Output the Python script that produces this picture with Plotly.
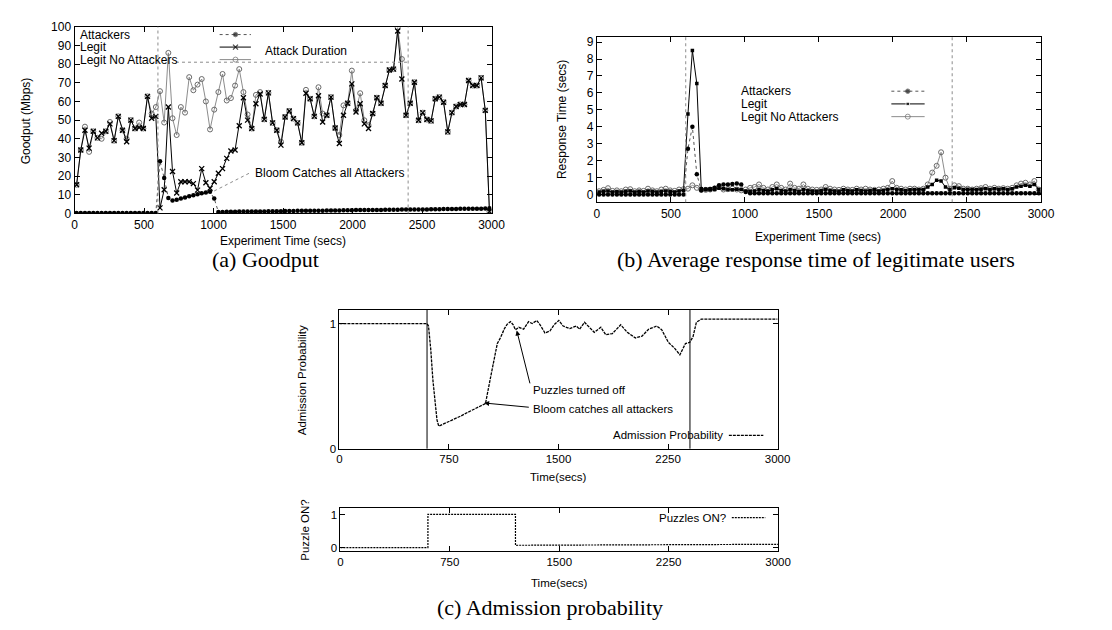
import plotly.graph_objects as go

W, H = 1112, 630

# ---------------- data ----------------
TIMES = list(range(15, 3000, 30))          # sample times (secs), one point per 30 s
ATTACK_WINDOW = [600, 2400]

GOOD_ATTACKERS = [
    0.3, 0.3, 0.3, 0.3, 0.3, 0.3, 0.3, 0.3, 0.3, 0.3,
    0.3, 0.3, 0.3, 0.3, 0.3, 0.3, 0.3, 0.3, 0.3, 0.3,
    28, 19, 8.3, 7, 7.3, 8, 8.6, 9.2, 9.8, 10.3,
    10.8, 11.2, 11.6, 8.0, 0.8, 0.8, 0.9, 0.9, 0.9, 1.0,
    1.0, 1.0, 1.0, 1.1, 1.1, 1.1, 1.2, 1.2, 1.2, 1.2,
    1.3, 1.3, 1.3, 1.4, 1.4, 1.4, 1.4, 1.5, 1.5, 1.5,
    1.6, 1.6, 1.6, 1.6, 1.7, 1.7, 1.7, 1.8, 1.8, 1.8,
    1.8, 1.9, 1.9, 1.9, 2.0, 2.0, 2.0, 2.0, 2.1, 2.1,
    2.1, 2.2, 2.2, 2.2, 2.2, 2.3, 2.3, 2.3, 2.4, 2.4,
    2.4, 2.4, 2.5, 2.5, 2.5, 2.6, 2.6, 2.6, 2.7, 2.8,
]
GOOD_LEGIT = [
    15.4, 34, 44.6, 35, 44, 40.5, 43, 44, 48, 39,
    52, 44.6, 38.4, 50, 45.5, 46, 45.5, 62.7, 51, 52,
    3, 12.7, 57, 22.5, 11, 17, 17, 17, 16, 12.5,
    24, 16.5, 13.5, 17, 21.5, 24, 29.5, 33.5, 34, 47,
    62, 50, 45.5, 58.8, 64, 50.4, 64.6, 48.5, 44.6, 36.6,
    51.7, 54.9, 50.8, 48.5, 37.9, 64.4, 61.4, 52, 63, 49,
    52.6, 62.3, 45.8, 37.5, 52.6, 59, 69.4, 54.3, 58.8, 48,
    45.5, 53.5, 62, 59, 68.5, 76.8, 77.3, 97.7, 72, 52.6,
    59, 70.3, 49.9, 54, 50.3, 49.6, 61.4, 62.3, 59.6, 43.7,
    54, 57.3, 58.4, 58.4, 71.2, 68.5, 68.5, 72.6, 55.2, 1.0,
]
GOOD_LEGIT_NOATT = [
    15.4, 34, 46.5, 33, 44, 40.5, 40, 44, 49, 39,
    52, 44.6, 40, 50, 45.5, 48.7, 45.5, 62.7, 53.5, 57,
    65.5, 48.7, 86, 51, 42, 57, 54, 73, 66, 69,
    72, 60, 45, 55.6, 65, 74.7, 60.5, 61.8, 68.5, 77.3,
    65, 53, 45.5, 63.5, 65, 50.4, 64.6, 48.5, 44.6, 38.4,
    51.7, 54.9, 50.8, 48.5, 37.9, 66.2, 61.4, 52, 67.6, 53.5,
    52.6, 62.3, 45.8, 42, 57.9, 59, 76.5, 55.2, 64.4, 49.9,
    47.3, 53.5, 62, 59, 68.5, 76.8, 77.3, 99.5, 82.7, 52.6,
    59, 70.3, 49.9, 54, 50.3, 49.6, 61.4, 62.3, 59.6, 43.7,
    54, 57.3, 58.4, 58.4, 71.2, 68.5, 68.5, 72.6, 55.2, 1.0,
]

RESP_ATTACKERS = [
    0, 0, 0, 0, 0, 0, 0, 0, 0, 0,
    0, 0, 0, 0, 0, 0, 0, 0, 0, 0,
    2.7, 4.0, 1.2, 0.25, 0.3, 0.3, 0.4, 0.55, 0.6, 0.6,
    0.62, 0.65, 0.6, 0.15, 0.08, 0.08, 0.08, 0.08, 0.08, 0.08,
    0.08, 0.08, 0.08, 0.08, 0.08, 0.08, 0.08, 0.08, 0.08, 0.08,
    0.08, 0.08, 0.08, 0.08, 0.08, 0.08, 0.08, 0.08, 0.08, 0.08,
    0.08, 0.08, 0.08, 0.08, 0.08, 0.08, 0.08, 0.08, 0.08, 0.08,
    0.08, 0.08, 0.08, 0.08, 0.08, 0.08, 0.08, 0.08, 0.08, 0.08,
    0.08, 0.08, 0.08, 0.08, 0.08, 0.08, 0.08, 0.08, 0.08, 0.08,
    0.08, 0.08, 0.08, 0.08, 0.08, 0.08, 0.08, 0.08, 0.08, 0.08,
]
RESP_LEGIT = [
    0.15, 0.2, 0.22, 0.15, 0.18, 0.15, 0.2, 0.22, 0.15, 0.2,
    0.15, 0.22, 0.2, 0.15, 0.18, 0.22, 0.2, 0.15, 0.22, 0.25,
    4.75, 8.5, 6.55, 0.35, 0.32, 0.35, 0.3, 0.38, 0.35, 0.3,
    0.28, 0.32, 0.3, 0.22, 0.2, 0.22, 0.3, 0.25, 0.22, 0.28,
    0.35, 0.25, 0.22, 0.3, 0.25, 0.2, 0.3, 0.25, 0.22, 0.2,
    0.25, 0.3, 0.25, 0.22, 0.2, 0.28, 0.25, 0.22, 0.28, 0.25,
    0.22, 0.25, 0.28, 0.22, 0.25, 0.3, 0.35, 0.3, 0.28, 0.25,
    0.28, 0.3, 0.28, 0.3, 0.45, 0.6, 0.85, 0.8, 0.45, 0.3,
    0.4, 0.38, 0.3, 0.32, 0.3, 0.3, 0.32, 0.35, 0.3, 0.35,
    0.32, 0.35, 0.3, 0.35, 0.45, 0.5, 0.55, 0.5, 0.6, 0.3,
]
RESP_LEGIT_NOATT = [
    0.2, 0.28, 0.38, 0.22, 0.25, 0.2, 0.3, 0.32, 0.2, 0.25,
    0.22, 0.35, 0.25, 0.2, 0.3, 0.35, 0.25, 0.22, 0.3, 0.32,
    0.35, 0.55, 0.4, 0.3, 0.28, 0.3, 0.35, 0.45, 0.3, 0.32,
    0.35, 0.3, 0.25, 0.3, 0.4, 0.45, 0.6, 0.4, 0.3, 0.45,
    0.6, 0.4, 0.3, 0.65, 0.4, 0.35, 0.6, 0.35, 0.3, 0.28,
    0.3, 0.45, 0.35, 0.3, 0.28, 0.35, 0.3, 0.28, 0.35, 0.3,
    0.35, 0.3, 0.28, 0.3, 0.35, 0.4, 0.8, 0.4, 0.35, 0.3,
    0.35, 0.35, 0.3, 0.35, 0.6, 1.3, 1.7, 2.5, 1.0, 0.35,
    0.55, 0.5, 0.35, 0.35, 0.3, 0.35, 0.38, 0.45, 0.35, 0.4,
    0.35, 0.38, 0.35, 0.4, 0.55, 0.65, 0.7, 0.6, 0.8, 0.3,
]

ADM_TIME = [
    0, 590, 600, 610, 625, 640, 655, 668, 680, 700,
    765, 830, 878, 946, 1000, 1040, 1081, 1104, 1130, 1149,
    1171, 1190, 1205, 1228, 1261, 1295, 1320, 1351, 1374, 1407,
    1441, 1470, 1502, 1532, 1577, 1622, 1644, 1678, 1712, 1745,
    1790, 1824, 1869, 1926, 1971, 2027, 2072, 2117, 2173, 2207,
    2252, 2297, 2331, 2354, 2369, 2399, 2421, 2444, 2477, 3000,
]
ADM_PROB = [
    1.0, 1.0, 1.0, 0.98, 0.8, 0.55, 0.35, 0.23, 0.18, 0.19,
    0.225, 0.26, 0.29, 0.33, 0.36, 0.6, 0.84, 0.89, 0.96, 0.995,
    1.015, 0.99, 0.95, 0.97, 0.955, 1.015, 1.0, 1.025, 0.99, 0.925,
    0.94, 0.99, 1.025, 0.98, 0.96, 0.98, 0.955, 1.01, 0.97, 0.93,
    0.97, 0.91, 0.92, 0.99, 0.93, 0.885, 0.90, 0.955, 0.98, 0.95,
    0.85, 0.80, 0.75, 0.80, 0.84, 0.85, 0.895, 1.01, 1.035, 1.035,
]
PUZZLE_TIME = [0, 600, 600, 1200, 1200, 3000]
PUZZLE_ON = [0, 0, 1.02, 1.02, 0.07, 0.1]

X_TICKS_AB = [0, 500, 1000, 1500, 2000, 2500, 3000]
Y_TICKS_A = [0, 10, 20, 30, 40, 50, 60, 70, 80, 90, 100]
Y_TICKS_B = [0, 1, 2, 3, 4, 5, 6, 7, 8, 9]
X_TICKS_C = [0, 750, 1500, 2250, 3000]
Y_TICKS_C = [0, 1]

for arr in (GOOD_ATTACKERS, GOOD_LEGIT, GOOD_LEGIT_NOATT, RESP_ATTACKERS, RESP_LEGIT, RESP_LEGIT_NOATT):
    assert len(arr) == len(TIMES), len(arr)
assert len(ADM_TIME) == len(ADM_PROB)

# ---------------- helpers ----------------
SANS = "Liberation Sans"
SERIF = "Liberation Serif"


def fx(px):
    return px / W


def fy(py):
    return 1 - py / H


def dom_x(a, b):
    return [fx(a), fx(b)]


def dom_y(top, bottom):
    return [fy(bottom), fy(top)]


def axis_style(size=12, **kw):
    d = dict(showline=True, linecolor="black", linewidth=1, mirror="ticks",
             ticks="inside", ticklen=5, tickwidth=1, tickcolor="black",
             showgrid=False, zeroline=False, fixedrange=True,
             tickfont=dict(family=SANS, size=size, color="black"))
    d.update(kw)
    return d


A_X, A_Y = dom_x(64.5, 488), dom_y(12, 203)
B_X, B_Y = dom_x(595, 1046), dom_y(22.5, 191.5)
C_X, C_Y = dom_x(333.5, 778.5), dom_y(301.5, 443.5)
D_X, D_Y = dom_x(334.5, 779), dom_y(504, 548)

GRAY_LINE = "#8c8c8c"
GRAY_MARK = "#6a6a6a"

fig = go.Figure()

# ---------------- panel (a) goodput ----------------
fig.add_trace(go.Scatter(x=TIMES, y=GOOD_LEGIT_NOATT, xaxis="x", yaxis="y", mode="lines+markers",
                         line=dict(color=GRAY_LINE, width=1),
                         marker=dict(symbol="circle-open", size=5, color=GRAY_MARK, line=dict(width=1))))
fig.add_trace(go.Scatter(x=TIMES, y=GOOD_LEGIT, xaxis="x", yaxis="y", mode="lines+markers",
                         line=dict(color="black", width=1),
                         marker=dict(symbol="x-thin", size=5, line=dict(width=1.3, color="black"))))
fig.add_trace(go.Scatter(x=TIMES, y=GOOD_ATTACKERS, xaxis="x", yaxis="y", mode="lines+markers",
                         line=dict(color="#555555", width=1, dash="dot"),
                         marker=dict(symbol="circle", size=4.5, color="black")))

# ---------------- panel (b) response time ----------------
fig.add_trace(go.Scatter(x=TIMES, y=RESP_LEGIT_NOATT, xaxis="x2", yaxis="y2", mode="lines+markers",
                         line=dict(color=GRAY_LINE, width=1),
                         marker=dict(symbol="circle-open", size=5, color=GRAY_MARK, line=dict(width=1))))
fig.add_trace(go.Scatter(x=TIMES, y=RESP_LEGIT, xaxis="x2", yaxis="y2", mode="lines+markers",
                         line=dict(color="black", width=1),
                         marker=dict(symbol="square", size=3.5, color="black")))
fig.add_trace(go.Scatter(x=TIMES, y=RESP_ATTACKERS, xaxis="x2", yaxis="y2", mode="lines+markers",
                         line=dict(color="#555555", width=1, dash="dot"),
                         marker=dict(symbol="circle", size=4.5, color="black")))

# ---------------- panel (c) admission probability ----------------
fig.add_trace(go.Scatter(x=ADM_TIME, y=ADM_PROB, xaxis="x3", yaxis="y3", mode="lines",
                         line=dict(color="black", width=1.3, dash="3px,1px")))
fig.add_trace(go.Scatter(x=PUZZLE_TIME, y=PUZZLE_ON, xaxis="x4", yaxis="y4", mode="lines",
                         line=dict(color="black", width=1.2, dash="2px,1px")))

# ---------------- legend keys (gnuplot style: text left, sample right) ----------------
KEY_A_X = [0.348, 0.386, 0.423]
KEY_A_Y = [0.958, 0.891, 0.824]
KEY_B_X = [0.663, 0.700, 0.738]
KEY_B_Y = [0.672, 0.595, 0.518]
styles = [
    (dict(color="#555555", width=1, dash="dot"), dict(symbol="circle", size=[0, 4.5, 0], color="black")),
    (dict(color="black", width=1), dict(symbol="x-thin", size=[0, 5, 0], line=dict(width=1.3, color="black"))),
    (dict(color=GRAY_LINE, width=1), dict(symbol="circle-open", size=[0, 5, 0], color=GRAY_MARK, line=dict(width=1))),
]
for (ln, mk), ky in zip(styles, KEY_A_Y):
    fig.add_trace(go.Scatter(x=KEY_A_X, y=[ky] * 3, xaxis="x5", yaxis="y5", mode="lines+markers",
                             line=ln, marker=mk, hoverinfo="skip"))
styles_b = [styles[0], (dict(color="black", width=1), dict(symbol="square", size=[0, 3.5, 0], color="black")), styles[2]]
for (ln, mk), ky in zip(styles_b, KEY_B_Y):
    fig.add_trace(go.Scatter(x=KEY_B_X, y=[ky] * 3, xaxis="x6", yaxis="y6", mode="lines+markers",
                             line=ln, marker=mk, hoverinfo="skip"))

# ---------------- shapes ----------------
shapes = []
for t in ATTACK_WINDOW:
    shapes.append(dict(type="line", xref="x", yref="y domain", x0=t, x1=t, y0=0, y1=1,
                       line=dict(color="#8c8c8c", width=1, dash="dot")))
    shapes.append(dict(type="line", xref="x2", yref="y2 domain", x0=t, x1=t, y0=0, y1=1,
                       line=dict(color="#8c8c8c", width=1, dash="dot")))
    shapes.append(dict(type="line", xref="x3", yref="y3 domain", x0=t, x1=t, y0=0, y1=1,
                       line=dict(color="black", width=1)))
# "Attack Duration" marker line and "Bloom" pointer in panel (a)
shapes.append(dict(type="line", xref="x", yref="y", x0=730, x1=ATTACK_WINDOW[1], y0=81, y1=81,
                   line=dict(color="#8c8c8c", width=1, dash="dot")))
shapes.append(dict(type="line", xref="x", yref="y", x0=1255, y0=21.5, x1=985, y1=11.3,
                   line=dict(color="#8c8c8c", width=1, dash="dot")))
# legend samples for panel (c)
shapes.append(dict(type="line", xref="paper", yref="paper", x0=fx(729), x1=fx(764), y0=fy(430), y1=fy(430),
                   line=dict(color="black", width=1.3, dash="3px,1px")))
shapes.append(dict(type="line", xref="paper", yref="paper", x0=fx(732), x1=fx(766), y0=fy(514), y1=fy(514),
                   line=dict(color="black", width=1.2, dash="2px,1px")))

# ---------------- annotations ----------------
def txt(text, x, y, size=12, xanchor="center", yanchor="middle", angle=0, family=SANS, xref="paper", yref="paper"):
    return dict(text=text, x=x, y=y, xref=xref, yref=yref, showarrow=False, xanchor=xanchor,
                yanchor=yanchor, textangle=angle, font=dict(family=family, size=size, color="black"))


ann = [
    # axis titles
    txt("Goodput (Mbps)", fx(15), fy(108), angle=-90),
    txt("Experiment Time (secs)", fx(276), fy(231)),
    txt("Response Time (secs)", fx(559), fy(107), angle=-90),
    txt("Experiment Time (secs)", fx(820), fy(227)),
    txt("Admission Probability", fx(295), fy(373), size=11.5, angle=-90),
    txt("Time(secs)", fx(556), fy(473), size=11.5),
    txt("Puzzle ON?", fx(299), fy(527), size=11.5, angle=-90),
    txt("Time(secs)", fx(557), fy(581), size=11.5),
    # captions
    txt("(a) Goodput", fx(258), fy(250), size=22, family=SERIF),
    txt("(b) Average response time of legitimate users", fx(818), fy(250), size=22, family=SERIF),
    txt("(c) Admission probability", fx(547), fy(606), size=22, family=SERIF),
    # panel (a) key and notes
    txt("Attackers", 0.008, KEY_A_Y[0], xanchor="left", xref="x domain", yref="y domain"),
    txt("Legit", 0.008, KEY_A_Y[1], xanchor="left", xref="x domain", yref="y domain"),
    txt("Legit No Attackers", 0.008, KEY_A_Y[2], xanchor="left", xref="x domain", yref="y domain"),
    txt("Attack Duration", 0.451, 0.872, xanchor="left", xref="x domain", yref="y domain"),
    txt("Bloom Catches all Attackers", 0.427, 0.215, xanchor="left", xref="x domain", yref="y domain"),
    # panel (b) key
    txt("Attackers", 0.321, KEY_B_Y[0], xanchor="left", xref="x2 domain", yref="y2 domain"),
    txt("Legit", 0.321, KEY_B_Y[1], xanchor="left", xref="x2 domain", yref="y2 domain"),
    txt("Legit No Attackers", 0.321, KEY_B_Y[2], xanchor="left", xref="x2 domain", yref="y2 domain"),
    # panel (c) key + notes
    txt("Admission Probability", fx(725), fy(430), size=11.5, xanchor="right"),
    txt("Puzzles ON?", fx(728), fy(514), size=11.5, xanchor="right"),
    txt("Puzzles turned off", 1315, 0.47, size=11.5, xanchor="left", xref="x3", yref="y3"),
    txt("Bloom catches all attackers", 1315, 0.32, size=11.5, xanchor="left", xref="x3", yref="y3"),
]
for (hx, hy, tx, ty) in [(1214, 0.945, 1307, 0.51), (991, 0.365, 1307, 0.33)]:
    ann.append(dict(text="", x=hx, y=hy, xref="x3", yref="y3", ax=tx, ay=ty, axref="x3", ayref="y3",
                    showarrow=True, arrowhead=2, arrowsize=1, arrowwidth=1, arrowcolor="black"))

fig.update_layout(
    width=W, height=H, autosize=False,
    margin=dict(l=0, r=0, t=0, b=0, pad=0),
    paper_bgcolor="white", plot_bgcolor="rgba(0,0,0,0)",
    showlegend=False,
    font=dict(family=SANS, size=12, color="black"),
    xaxis=axis_style(domain=A_X, range=[0, 3000], tickvals=X_TICKS_AB, anchor="y"),
    yaxis=axis_style(domain=A_Y, range=[0, 100], tickvals=Y_TICKS_A, anchor="x"),
    xaxis2=axis_style(domain=B_X, range=[0, 3000], tickvals=X_TICKS_AB, anchor="y2"),
    yaxis2=axis_style(domain=B_Y, range=[-0.45, 9.3], tickvals=Y_TICKS_B, anchor="x2"),
    xaxis3=axis_style(size=11.5, domain=C_X, range=[0, 3000], tickvals=X_TICKS_C, anchor="y3"),
    yaxis3=axis_style(size=11.5, domain=C_Y, range=[0, 1.11], tickvals=Y_TICKS_C, anchor="x3"),
    xaxis4=axis_style(size=11.5, domain=D_X, range=[0, 3000], tickvals=X_TICKS_C, anchor="y4"),
    yaxis4=axis_style(size=11.5, domain=D_Y, range=[-0.1, 1.22], tickvals=Y_TICKS_C, anchor="x4"),
    xaxis5=dict(domain=A_X, range=[0, 1], visible=False, anchor="y5", fixedrange=True),
    yaxis5=dict(domain=A_Y, range=[0, 1], visible=False, anchor="x5", fixedrange=True),
    xaxis6=dict(domain=B_X, range=[0, 1], visible=False, anchor="y6", fixedrange=True),
    yaxis6=dict(domain=B_Y, range=[0, 1], visible=False, anchor="x6", fixedrange=True),
    shapes=shapes,
    annotations=ann,
)

fig.write_html("out.html", config={"displayModeBar": False})
